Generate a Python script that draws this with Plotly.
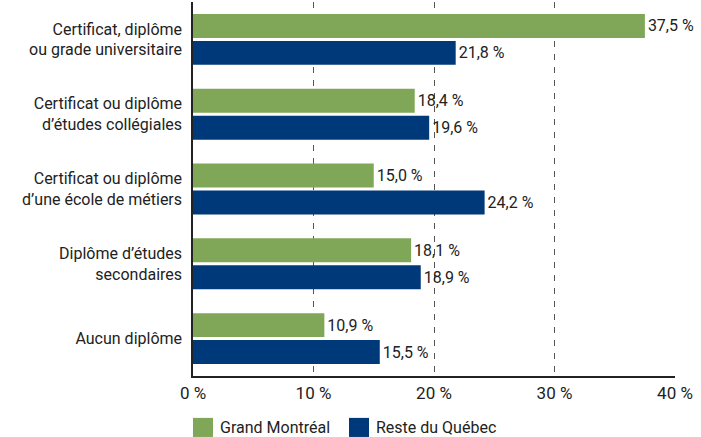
import plotly.graph_objects as go

categories = [
    "Certificat, diplôme<br>ou grade universitaire",
    "Certificat ou diplôme<br>d’études collégiales",
    "Certificat ou diplôme<br>d’une école de métiers",
    "Diplôme d’études<br>secondaires",
    "Aucun diplôme",
]
series_names = ["Grand Montréal", "Reste du Québec"]
grand_montreal = [37.5, 18.4, 15.0, 18.1, 10.9]
reste_quebec = [21.8, 19.6, 24.2, 18.9, 15.5]
tick_values = [0, 10, 20, 30, 40]
tick_labels = ["0 %", "10 %", "20 %", "30 %", "40 %"]
colors = ["#80A657", "#00397A"]

def fmt(v):
    return f"{v:.1f}".replace(".", ",") + " %"

FONT = "Roboto, Arial, sans-serif"
TXT = "#222222"

fig = go.Figure()
for name, vals, col in zip(series_names, [grand_montreal, reste_quebec], colors):
    fig.add_trace(go.Bar(
        y=categories, x=vals, name=name, orientation="h",
        marker=dict(color=col, line=dict(width=0)),
        text=[fmt(v) for v in vals], textposition="outside",
        textfont=dict(family=FONT, size=16, color=TXT),
        cliponaxis=False, showlegend=False,
    ))

# manual legend (paper coordinates)
legend_x = [0.0, 0.3237]
for name, col, lx in zip(series_names, colors, legend_x):
    fig.add_shape(type="rect", xref="paper", yref="paper",
                  x0=lx, x1=lx + 0.0415, y0=-0.163, y1=-0.112,
                  fillcolor=col, line=dict(width=0))
    fig.add_annotation(xref="paper", yref="paper", x=lx + 0.052, y=-0.139,
                       text=name, showarrow=False, xanchor="left", yanchor="middle",
                       font=dict(family=FONT, size=16, color=TXT))

fig.update_layout(
    width=701, height=437,
    margin=dict(l=193, r=26, t=2, b=61, autoexpand=False),
    paper_bgcolor="white", plot_bgcolor="white",
    barmode="group", bargap=0.28, bargroupgap=0.11,
    font=dict(family=FONT, size=16, color=TXT),
    showlegend=False,
)
fig.update_xaxes(
    range=[0, 40], tickmode="array", tickvals=tick_values, ticktext=tick_labels,
    showgrid=True, gridcolor="#555555", gridwidth=1, griddash="6px,7px",
    showline=True, linecolor="#222222", linewidth=1.5,
    zeroline=False, ticks="", ticklabelstandoff=1,
    tickfont=dict(family=FONT, size=17, color=TXT),
)
fig.update_yaxes(
    autorange="reversed", showgrid=False, showline=True,
    linecolor="#222222", linewidth=1.5, ticks="", ticklabelstandoff=6,
    tickfont=dict(family=FONT, size=16, color=TXT),
)

fig.write_html("out.html", config={"displayModeBar": False},
               post_script="document.body.style.margin='0';")
